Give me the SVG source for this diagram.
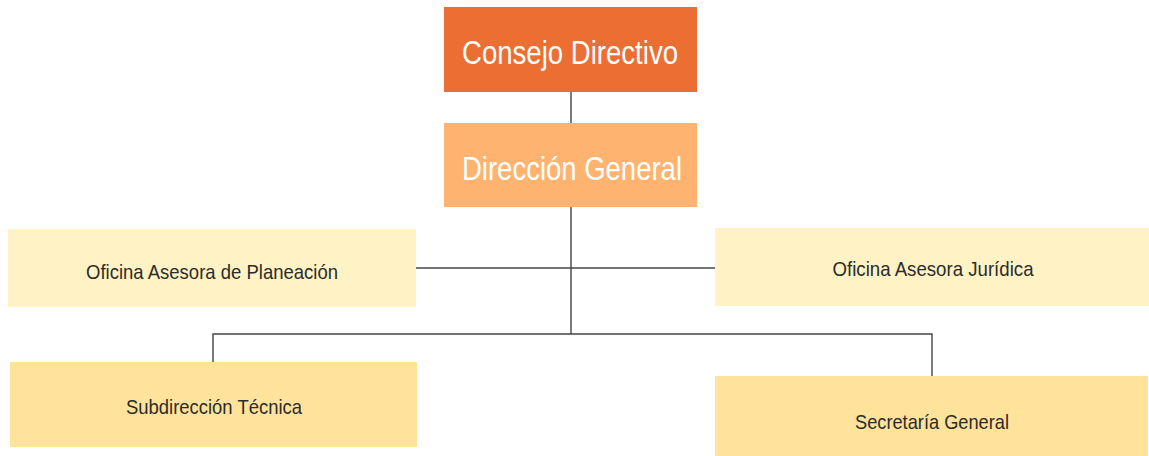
<svg xmlns="http://www.w3.org/2000/svg" width="1149" height="456" viewBox="0 0 1149 456">
<style>
.lbl{font-family:"Liberation Sans Narrow","Liberation Sans",Arial,sans-serif;text-anchor:middle}
.big{font-size:34px;fill:#ffffff}
.sm{font-size:21px;fill:#2b2b2b}
.conn{fill:none;stroke:#444444;stroke-width:1.4}
</style>
<rect width="1149" height="456" fill="#ffffff"/>
<g id="connectors">
<line class="conn" x1="571" y1="92" x2="571" y2="123"/>
<line class="conn" x1="571" y1="207" x2="571" y2="334"/>
<line class="conn" x1="416" y1="268" x2="715" y2="268"/>
<polyline class="conn" points="213,362 213,334 932,334 932,376"/>
</g>
<g id="consejo">
<rect x="444" y="7" width="253" height="85" fill="#EB6E33"/>
<text class="lbl big" x="570" y="64" textLength="216" lengthAdjust="spacingAndGlyphs">Consejo Directivo</text>
</g>
<g id="direccion">
<rect x="444" y="123" width="253" height="84" fill="#FFB370"/>
<text class="lbl big" x="572" y="180" textLength="220" lengthAdjust="spacingAndGlyphs">Dirección General</text>
</g>
<g id="planeacion">
<rect x="8" y="229" width="408" height="78" fill="#FFF3C5"/>
<text class="lbl sm" x="212" y="279" textLength="252" lengthAdjust="spacingAndGlyphs">Oficina Asesora de Planeación</text>
</g>
<g id="juridica">
<rect x="715" y="228" width="434" height="78" fill="#FFF3C5"/>
<text class="lbl sm" x="933" y="276" textLength="201" lengthAdjust="spacingAndGlyphs">Oficina Asesora Jurídica</text>
</g>
<g id="subdireccion">
<rect x="10" y="362" width="407" height="85" fill="#FFE39A"/>
<text class="lbl sm" x="214" y="414" textLength="176" lengthAdjust="spacingAndGlyphs">Subdirección Técnica</text>
</g>
<g id="secretaria">
<rect x="715" y="376" width="433" height="80" fill="#FFE39A"/>
<text class="lbl sm" x="932" y="429" textLength="154" lengthAdjust="spacingAndGlyphs">Secretaría General</text>
</g>
</svg>
